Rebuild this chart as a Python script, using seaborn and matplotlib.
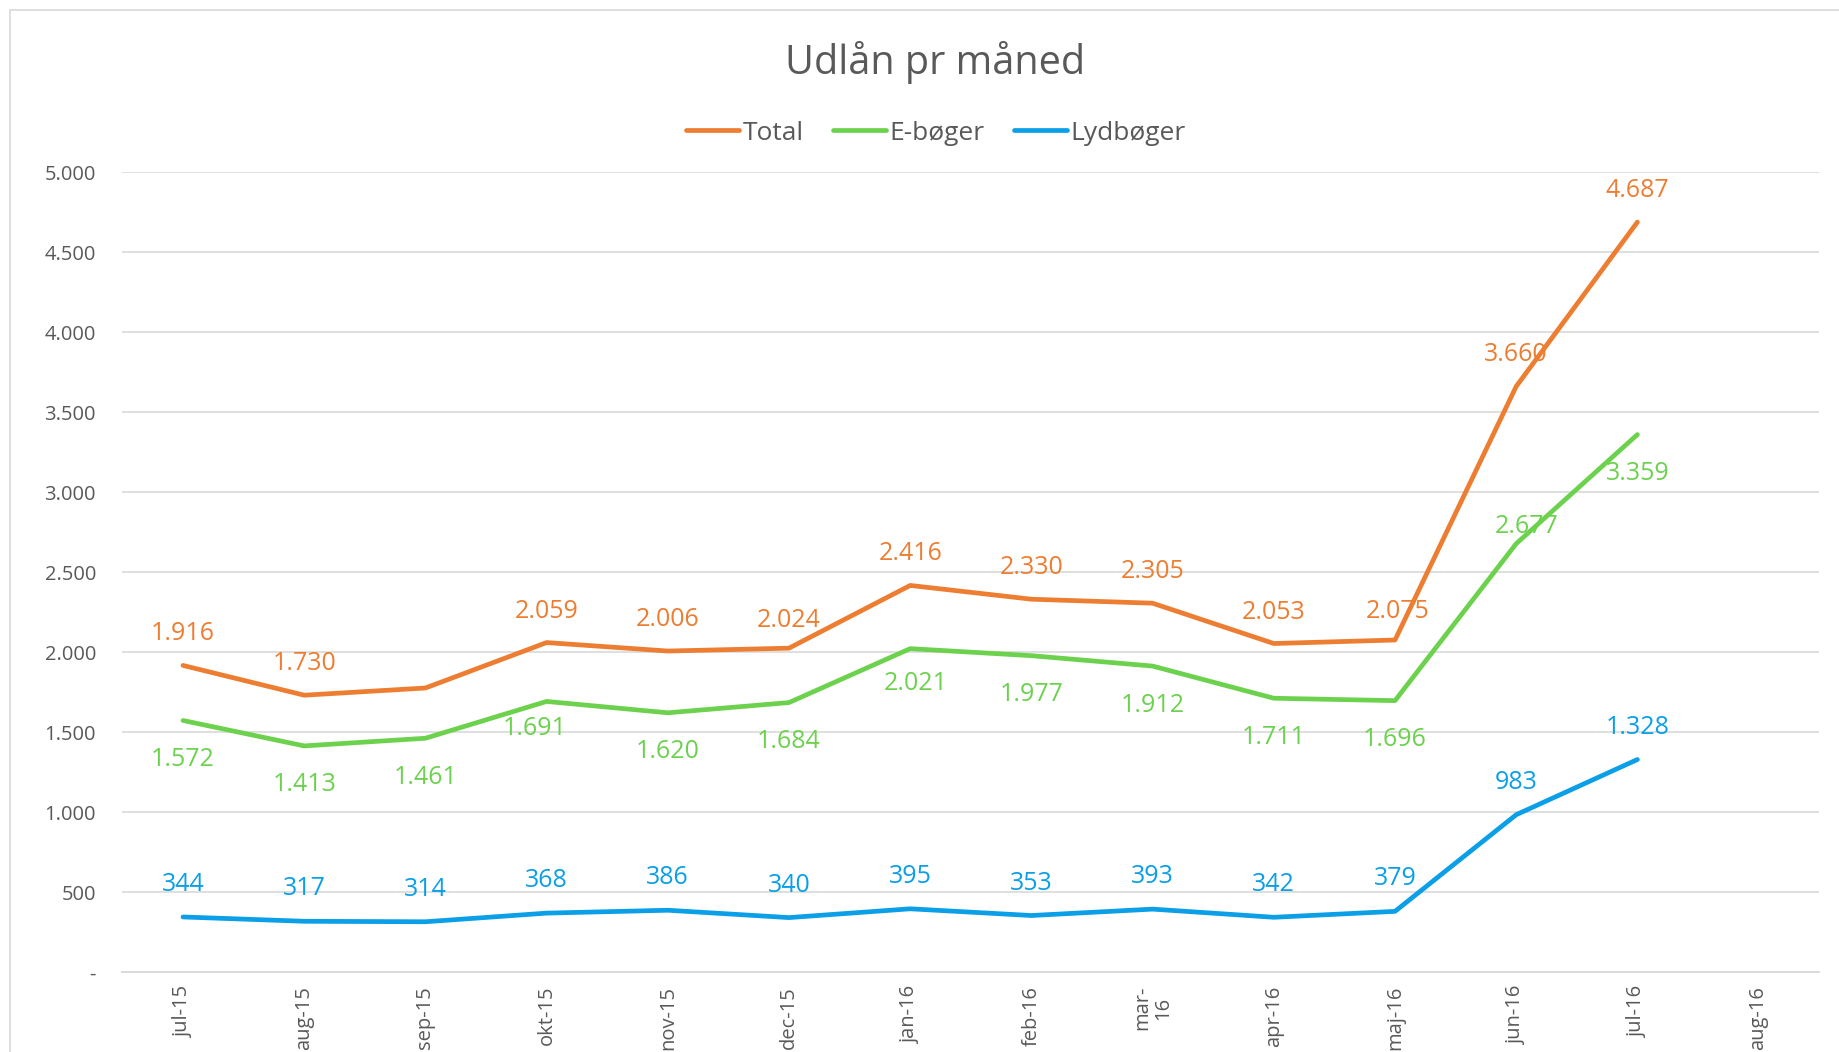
import numpy as np
import pandas as pd
import matplotlib
matplotlib.use("Agg")
import matplotlib.pyplot as plt
from matplotlib.ticker import FuncFormatter, FixedLocator
from matplotlib.lines import Line2D
import seaborn as sns

months = ["jul-15", "aug-15", "sep-15", "okt-15", "nov-15", "dec-15", "jan-16",
          "feb-16", "mar-\n16", "apr-16", "maj-16", "jun-16", "jul-16", "aug-16"]
total = [1916, 1730, 1775, 2059, 2006, 2024, 2416, 2330, 2305, 2053, 2075, 3660, 4687]
eboger = [1572, 1413, 1461, 1691, 1620, 1684, 2021, 1977, 1912, 1711, 1696, 2677, 3359]
lydboger = [344, 317, 314, 368, 386, 340, 395, 353, 393, 342, 379, 983, 1328]
series_names = ["Total", "E-bøger", "Lydbøger"]

# which data labels are shown (Total sep-15 has no label in the original)
total_labelled = [True, True, False, True, True, True, True, True, True, True, True, True, True]

colors = {"Total": "#ED7D31", "E-bøger": "#6CD24E", "Lydbøger": "#0A9FE6"}
text_gray = "#595959"
grid_gray = "#D9D9D9"

sns.set_theme(style="white")
plt.rcParams['font.family'] = ['Open Sans', 'DejaVu Sans']

rows = []
for name, vals in zip(series_names, [total, eboger, lydboger]):
    for i, v in enumerate(vals):
        rows.append({"pos": i, "month": months[i], "value": v, "serie": name})
df = pd.DataFrame(rows)

W, H = 1840, 1052
fig = plt.figure(figsize=(W / 100, H / 100), dpi=100)
ax_left, ax_right, ax_bottom, ax_top = 122.4, 1819.2, 972, 172
ax = fig.add_axes([ax_left / W, (H - ax_bottom) / H, (ax_right - ax_left) / W, (ax_bottom - ax_top) / H])

sns.lineplot(data=df, x="pos", y="value", hue="serie", hue_order=series_names,
             palette=colors, linewidth=3.4, solid_capstyle="round", ax=ax, legend=False)

ax.set_xlim(-0.5, len(months) - 0.5)
ax.set_ylim(0, 5000)
ax.yaxis.set_major_locator(FixedLocator(np.arange(0, 5001, 500)))
ax.yaxis.set_major_formatter(FuncFormatter(lambda v, p: "-" if v == 0 else f"{int(v):,}".replace(",", ".")))
ax.set_xticks(range(len(months)))
ax.set_xticklabels(months, rotation=90, fontsize=14.5, color=text_gray, multialignment="center", linespacing=1.05)
ax.tick_params(axis="y", labelsize=14.5, labelcolor=text_gray, length=0, pad=19)
ax.tick_params(axis="x", length=0, pad=10)
ax.set_xlabel("")
ax.set_ylabel("")
ax.grid(axis="y", color=grid_gray, linewidth=1.2)
ax.set_axisbelow(True)
for s in ["top", "right", "left"]:
    ax.spines[s].set_visible(False)
ax.spines["bottom"].set_color(grid_gray)
ax.spines["bottom"].set_linewidth(1.4)

# data labels
def label(name, vals, dy, shown=None, overrides=None):
    overrides = overrides or {}
    for i, v in enumerate(vals):
        if shown is not None and not shown[i]:
            continue
        dx_i, dy_i = overrides.get(i, (0, dy))
        ax.annotate(f"{v:,}".replace(",", "."), xy=(i, v), xytext=(dx_i, dy_i),
                    textcoords="offset pixels", ha="center", va="center",
                    fontsize=18, color=colors[name])

label("Total", total, 31.5, shown=total_labelled, overrides={5: (0, 28), 10: (3, 28.5)})
label("E-bøger", eboger, -39, overrides={3: (-12, -27), 6: (6, -34.5), 11: (10, 17.5)})
label("Lydbøger", lydboger, 32.5)

# title & legend
fig.text(935 / W, 1 - 62 / H, "Udlån pr måned", ha="center", va="center", fontsize=28.5, color=text_gray)
handles = [Line2D([0], [0], color=colors[n], linewidth=3.4, solid_capstyle="round") for n in series_names]
leg = fig.legend(handles, series_names, loc="center", bbox_to_anchor=(936 / W, 1 - 133 / H), ncol=3,
                 frameon=False, fontsize=19, handlelength=2.0, handletextpad=0.15, columnspacing=1.1,
                 labelcolor=text_gray)

# chart area border (left and top edges visible)
fig.add_artist(Line2D([10.5 / W, 10.5 / W], [0, 1 - 10 / H], transform=fig.transFigure, color=grid_gray, linewidth=1.2))
fig.add_artist(Line2D([10.5 / W, 1], [1 - 10 / H, 1 - 10 / H], transform=fig.transFigure, color=grid_gray, linewidth=1.2))

fig.savefig("out.png", dpi=100, facecolor="white")
